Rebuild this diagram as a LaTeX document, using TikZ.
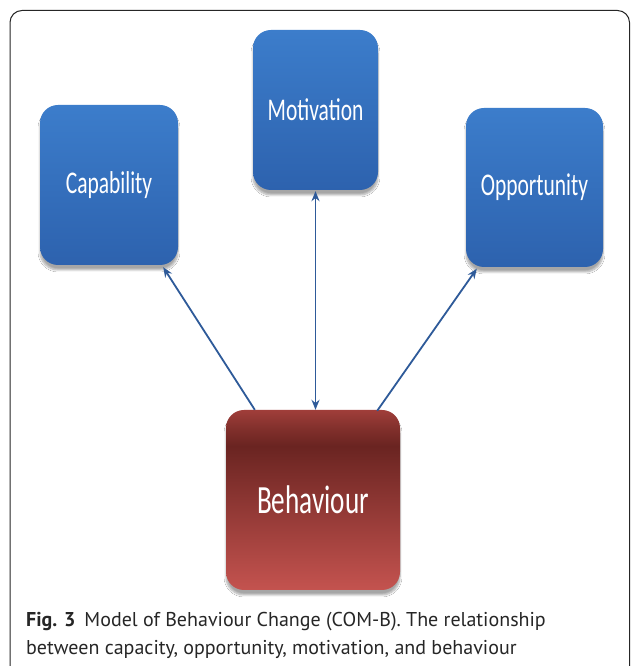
\documentclass[tikz,border=0pt]{standalone}
\usepackage{fontspec}
\setmainfont{Carlito}
\newfontfamily\capfont{PT Sans}
\usetikzlibrary{arrows.meta,calc,shadows.blur}
\definecolor{bluetop}{HTML}{3C7DCB}
\definecolor{bluebot}{HTML}{2D62AE}
\definecolor{arrowc}{HTML}{2E5A99}
\definecolor{rtop}{HTML}{A03E3A}
\definecolor{rdark}{HTML}{6A2421}
\definecolor{rmid}{HTML}{82302C}
\definecolor{rbot}{HTML}{C4534F}
\definecolor{framec}{HTML}{262626}
\pgfdeclareverticalshading{behshade}{100bp}{color(0bp)=(rbot); color(25bp)=(rbot); color(65bp)=(rdark); color(70bp)=(rmid); color(75bp)=(rtop); color(100bp)=(rtop)}
\tikzset{
  boxbase/.style={rectangle, rounded corners=18pt, inner sep=0pt, text=white,
    blur shadow={shadow xshift=0pt, shadow yshift=-5pt, shadow blur steps=8, shadow opacity=35}},
  bluebox/.style={boxbase, top color=bluetop, bottom color=bluebot,
    font=\fontsize{31.6}{36}\selectfont},
  redbox/.style={boxbase, shading=behshade, font=\fontsize{40}{46}\selectfont},
  conn/.style={draw=arrowc, line width=1.8pt, -{Stealth[length=10pt,width=8pt]}},
  captext/.style={anchor=base west, inner sep=0pt, font=\capfont\fontsize{20}{24}\selectfont, text=black!85}
}
\begin{document}
\begin{tikzpicture}[x=1pt,y=1pt]
\useasboundingbox (0,0) rectangle (630,666);
\fill[white] (0,0) rectangle (630,666);
\draw[framec, line width=1pt, rounded corners=12pt] (10,-20) rectangle (629.5,655.5);

\node[bluebox, minimum width=138pt, minimum height=160pt] (cap) at (109,481) {\scalebox{0.68}[1]{Capability}};
\node[bluebox, minimum width=125pt, minimum height=160pt] (mot) at (315.5,556) {\scalebox{0.68}[1]{Motivation}};
\node[bluebox, minimum width=137pt, minimum height=159pt] (opp) at (534.5,478.5) {\scalebox{0.68}[1]{Opportunity}};
\node[redbox, minimum width=174pt, minimum height=180pt] (beh) at (313,166) {\scalebox{0.68}[1]{Behaviour}};

\coordinate (c1s) at ($(beh.north west)+(29pt,0pt)$);
\coordinate (c1e) at ($(cap.south east)+(-15pt,-2pt)$);
\coordinate (c3s) at ($(beh.north east)+(-23pt,-1pt)$);
\coordinate (c3e) at ($(opp.south west)+(11pt,-1.5pt)$);
\coordinate (c2s) at ($(mot.south)+(0pt,-1pt)$);
\coordinate (c2e) at (mot.south |- beh.north);

\draw[conn] (c1s) -- (c1e);
\draw[conn] (c3s) -- (c3e);
\draw[conn, {Stealth[length=10pt,width=8pt]}-{Stealth[length=10pt,width=8pt]}] (c2s) -- (c2e);

\node[captext] (cap1) at (26,39) {\textbf{Fig. 3}\hspace{0.45em}Model of Behaviour Change (COM-B). The relationship};
\node[captext] (cap2) at (26,11) {between capacity, opportunity, motivation, and behaviour};
\end{tikzpicture}
\end{document}
